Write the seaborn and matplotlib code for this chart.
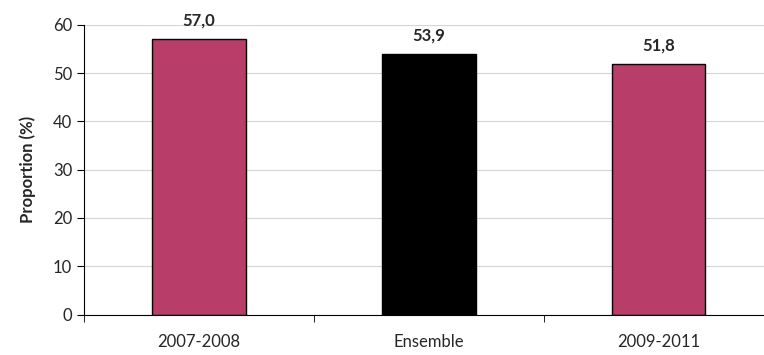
import pandas as pd
import matplotlib.pyplot as plt
import seaborn as sns

# Data
periods = ["2007-2008", "Ensemble", "2009-2011"]
proportions = [57.0, 53.9, 51.8]
bar_colors = ["#B83D68", "#000000", "#B83D68"]

df = pd.DataFrame({"Periode": periods, "Proportion": proportions})

sns.set_style("white")
plt.rcParams["font.family"] = ["Lato", "DejaVu Sans"]

fig = plt.figure(figsize=(7.64, 3.55), dpi=100)
ax = fig.add_axes([0.11, 0.114, 0.89, 0.816])

sns.barplot(data=df, x="Periode", y="Proportion", hue="Periode",
            palette=bar_colors, saturation=1, width=0.405, edgecolor="black",
            linewidth=1.0, legend=False, ax=ax)

# Value labels (French decimal comma)
for cont in ax.containers:
    ax.bar_label(cont, labels=[f"{v:.1f}".replace(".", ",") for v in cont.datavalues],
                 padding=8, fontsize=12, fontweight="bold")

ax.set_ylim(0, 60)
ax.set_yticks(range(0, 61, 10))
ax.set_xlim(-0.5, 2.457)
ax.set_xlabel("")
ax.set_ylabel("Proportion (%)", fontsize=12, fontweight="bold", labelpad=12)

ax.yaxis.grid(True, color="#d4d4d4", linewidth=0.8)
ax.set_axisbelow(True)

for s in ["top", "right"]:
    ax.spines[s].set_visible(False)
ax.spines["left"].set_color("black")
ax.spines["bottom"].set_color("black")

ax.tick_params(axis="y", left=True, length=5, labelsize=12, color="black")
ax.tick_params(axis="x", which="major", length=0, labelsize=12, pad=14)
ax.set_xticks([-0.5, 0.5, 1.5], minor=True)
ax.tick_params(axis="x", which="minor", bottom=True, length=5, color="black")

fig.savefig("out.png", dpi=100)
